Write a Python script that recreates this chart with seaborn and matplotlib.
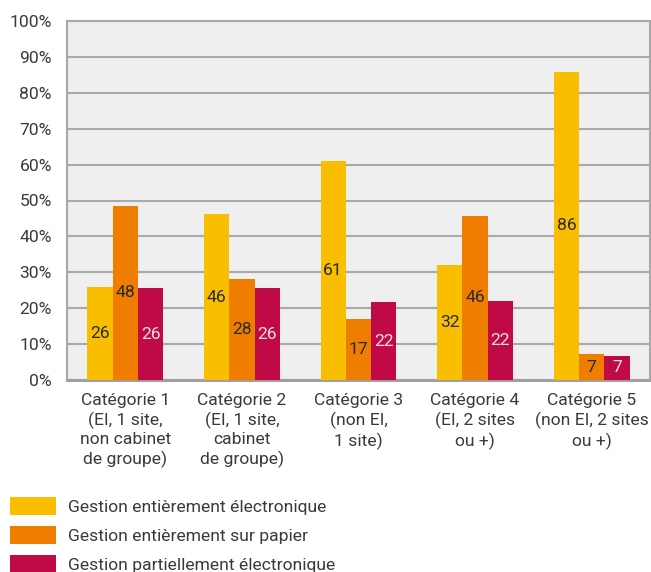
import matplotlib
matplotlib.use("Agg")
import matplotlib.pyplot as plt
import seaborn as sns
import pandas as pd
from matplotlib.patches import Patch
from matplotlib.ticker import FuncFormatter

categories = [
    "Catégorie 1\n(EI, 1 site,\nnon cabinet\nde groupe)",
    "Catégorie 2\n(EI, 1 site,\ncabinet\nde groupe)",
    "Catégorie 3\n(non EI,\n1 site)",
    "Catégorie 4\n(EI, 2 sites\nou +)",
    "Catégorie 5\n(non EI, 2 sites\nou +)",
]
series = [
    "Gestion entièrement électronique",
    "Gestion entièrement sur papier",
    "Gestion partiellement électronique",
]
electronique = [25.9, 46.2, 61.0, 32.0, 85.8]
papier = [48.5, 28.1, 17.0, 45.7, 7.2]
partiel = [25.6, 25.6, 21.7, 22.0, 6.7]
labels_electronique = ["26", "46", "61", "32", "86"]
labels_papier = ["48", "28", "17", "46", "7"]
labels_partiel = ["26", "26", "22", "22", "7"]
yticks = [0, 10, 20, 30, 40, 50, 60, 70, 80, 90, 100]

colors = ["#F9BE00", "#EF7D00", "#C00A46"]
label_colors = ["#2a2a2a", "#2a2a2a", "#f7dde6"]
FS = 12.6

sns.set_theme(style="white")
plt.rcParams["font.family"] = ["Roboto", "DejaVu Sans"]

rows = []
for s, vals in zip(series, [electronique, papier, partiel]):
    for c, v in zip(categories, vals):
        rows.append({"cat": c, "serie": s, "val": v})
df = pd.DataFrame(rows)

fig = plt.figure(figsize=(6.51, 5.72), dpi=100)
ax = fig.add_axes([67 / 651, 1 - 380 / 572, 583 / 651, 359 / 572])
ax.set_facecolor("#efefef")

sns.barplot(data=df, x="cat", y="val", hue="serie", palette=colors,
            width=0.65, saturation=1, ax=ax, legend=False, errorbar=None,
            zorder=3)

for cont, labs, lc in zip(ax.containers, [labels_electronique, labels_papier, labels_partiel], label_colors):
    for bar in cont:
        bar.set_edgecolor("none")
    ax.bar_label(cont, labels=labs, label_type="center", color=lc, fontsize=FS)

ax.set_ylim(0, 100)
ax.set_yticks(yticks)
ax.yaxis.set_major_formatter(FuncFormatter(lambda v, p: f"{int(v)}%"))
ax.grid(axis="y", color="#a9a9a9", linewidth=1.5, zorder=0)
ax.set_axisbelow(True)
ax.set_xlabel("")
ax.set_ylabel("")
for side in ["left", "right", "top"]:
    ax.spines[side].set_color("#a9a9a9")
    ax.spines[side].set_linewidth(1.5)
ax.spines["bottom"].set_color("#a0a0a0")
ax.spines["bottom"].set_linewidth(2.2)
ax.tick_params(axis="both", length=0, labelsize=FS, colors="#3a3a3a")
ax.tick_params(axis="y", pad=10.8)
ax.tick_params(axis="x", pad=9.5)
for t in ax.get_xticklabels():
    t.set_linespacing(1.27)

handles = [Patch(facecolor=c, edgecolor="none") for c in colors]
fs_px = FS * 100 / 72
fig.legend(handles, series, loc="upper left", bbox_to_anchor=(10 / 651, 1 - 497 / 572),
           frameon=False, fontsize=FS, handlelength=46 / fs_px, handleheight=21 / fs_px,
           labelspacing=11 / fs_px, handletextpad=12 / fs_px, labelcolor="#3a3a3a",
           borderaxespad=0, borderpad=0)

fig.savefig("out.png", dpi=100)
